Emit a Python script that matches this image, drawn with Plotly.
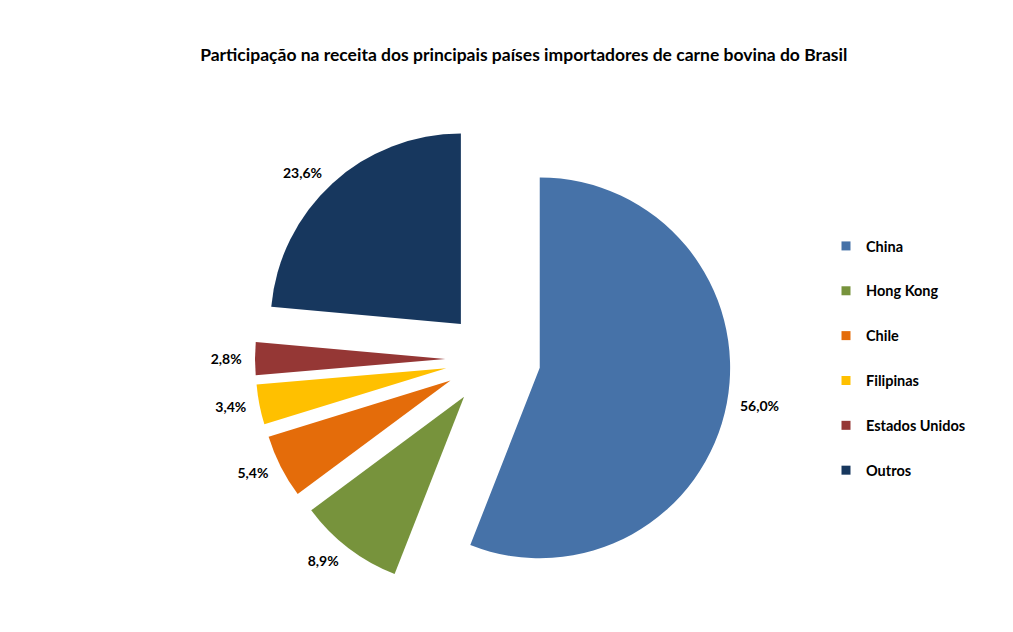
import plotly.graph_objects as go

paises = ["China", "Hong Kong", "Chile", "Filipinas", "Estados Unidos", "Outros"]
participacao = [56.0, 8.9, 5.4, 3.4, 2.8, 23.6]
cores = ["#4672A8", "#77933C", "#E46C0A", "#FFC000", "#953735", "#17375E"]

fonte = "Lato"

fig = go.Figure()

# transparent, slightly larger pie that only carries the outside labels
fig.add_trace(go.Pie(
    labels=paises,
    values=participacao,
    sort=False,
    direction="clockwise",
    rotation=0,
    marker=dict(colors=["rgba(0,0,0,0)"] * len(paises), line=dict(width=0)),
    texttemplate="%{value:.1f}%",
    textposition="outside",
    textfont=dict(family=fonte, size=14, color="#000000", weight="bold"),
    showlegend=False,
    hoverinfo="skip",
    domain=dict(x=[0.2428, 0.7305], y=[0.0411, 0.8228]),
))

# the exploded pie itself
fig.add_trace(go.Pie(
    labels=paises,
    values=participacao,
    sort=False,
    direction="clockwise",
    rotation=0,
    pull=[0.25] * len(paises),
    marker=dict(colors=cores, line=dict(width=0)),
    textinfo="none",
    showlegend=False,
    hoverinfo="label+value",
    domain=dict(x=[0.2517, 0.7216], y=[0.0554, 0.8085]),
))

for nome, cor in zip(paises, cores):
    fig.add_trace(go.Scatter(
        x=[None], y=[None], mode="markers", name=nome,
        legendgroup=nome,
        marker=dict(symbol="square", size=9, color=cor),
    ))

fig.update_layout(
    width=1013, height=632,
    margin=dict(l=0, r=0, t=0, b=0, autoexpand=False),
    paper_bgcolor="white", plot_bgcolor="white",
    separators=",.",
    title=dict(
        text="<b>Participação na receita dos principais países importadores de carne bovina do Brasil</b>",
        x=0.517, xanchor="center", y=1 - 55 / 632, yanchor="middle",
        font=dict(family=fonte, size=17.5, color="#000000"),
    ),
    xaxis=dict(visible=False),
    yaxis=dict(visible=False),
    legend=dict(
        x=826 / 1013, xanchor="left", y=1 - 230 / 632, yanchor="top",
        font=dict(family=fonte, size=14.5, color="#000000", weight="bold"),
        tracegroupgap=23,
        traceorder="grouped",
        bgcolor="rgba(0,0,0,0)",
    ),
)

fig.write_html("out.html")
